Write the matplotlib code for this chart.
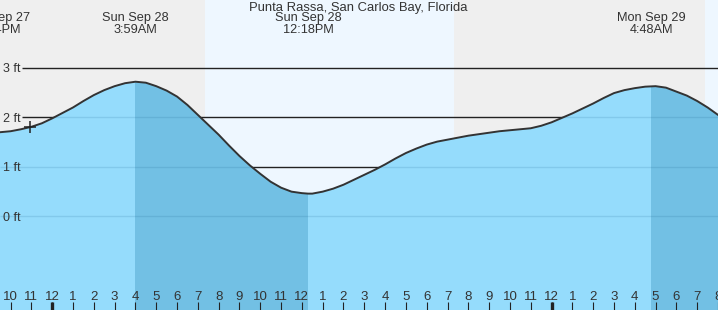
import matplotlib
matplotlib.use("Agg")
import matplotlib.pyplot as plt
import numpy as np

plt.rcParams['font.family'] = ['Liberation Sans', 'DejaVu Sans']

TITLE = "Punta Rassa, San Carlos Bay, Florida"

# hours from midnight Sun Sep 28, and tide height (ft)
hours = [-2.51, -2, -1.5, -1, -0.5, 0, 0.5, 1, 1.5, 2, 2.5, 3, 3.5, 4, 4.5,
         5, 5.5, 6, 6.5, 7, 7.5, 8, 8.5, 9, 9.5, 10, 10.5, 11, 11.5, 12,
         12.3, 12.5, 13, 13.5, 14, 14.5, 15, 15.5, 16, 16.5, 17, 17.5, 18,
         18.5, 19, 19.5, 20, 20.5, 21, 21.5, 22, 22.5, 23, 23.5, 24, 24.5,
         25, 25.5, 26, 26.5, 27, 27.5, 28, 28.5, 29, 29.5, 30, 30.5, 31,
         31.5, 32]
height = [1.70, 1.72, 1.76, 1.81, 1.88, 1.98, 2.09, 2.20, 2.33, 2.45, 2.55,
          2.63, 2.69, 2.72, 2.70, 2.63, 2.54, 2.42, 2.25, 2.05, 1.85, 1.65,
          1.43, 1.22, 1.03, 0.86, 0.70, 0.58, 0.50, 0.47, 0.46, 0.46, 0.50,
          0.56, 0.64, 0.74, 0.84, 0.94, 1.05, 1.17, 1.28, 1.37, 1.45, 1.51,
          1.55, 1.59, 1.63, 1.66, 1.69, 1.72, 1.74, 1.76, 1.78, 1.83, 1.90,
          1.99, 2.08, 2.18, 2.28, 2.39, 2.49, 2.55, 2.59, 2.62, 2.63, 2.60,
          2.52, 2.44, 2.33, 2.20, 2.05]

# tide extremes shown at the top
tide_hours = [-2.56, 3.98, 12.3, 28.8]
tide_labels = ["Sat Sep 27\n7:44PM", "Sun Sep 28\n3:59AM",
               "Sun Sep 28\n12:18PM", "Mon Sep 29\n4:48AM"]

# falling-tide stretches (high -> low), drawn darker
falling = [(3.98, 12.3), (28.8, 32.0)]

# daylight (sunrise, sunset)
daylight = [(7.33, 19.3), (31.36, 32.0)]

now_hour, now_height = -1.07, 1.80

grid_levels = [0, 1, 2, 3]
grid_labels = ["0 ft", "1 ft", "2 ft", "3 ft"]

tick_hours = list(range(-2, 33))
tick_labels = [str((h % 12) or 12) for h in tick_hours]
midnights = [0, 24]

x0, x1 = -2.51, 32.0
y0, y1 = -1.89, 4.37

fig = plt.figure(figsize=(7.18, 3.10), dpi=100)
ax = fig.add_axes([0, 0, 1, 1])
ax.set_xlim(x0, x1)
ax.set_ylim(y0, y1)
ax.set_facecolor('#efefef')
ax.set_axisbelow(False)
for s in ax.spines.values():
    s.set_visible(False)

for a, b in daylight:
    ax.axvspan(a, b, color='#eef7ff', zorder=0, lw=0)

ax.hlines(grid_levels, -1.46, x1, color='#222222', lw=1.0, zorder=1.0)

water = ax.fill_between(hours, height, y0, color='#95dcfc', lw=0, zorder=1.2)
clip = water.get_paths()[0]
for a, b in falling:
    span = ax.axvspan(a, b, color='#72c0e4', lw=0, zorder=1.3)
    span.set_clip_path(clip, ax.transData)
wet = ax.hlines(grid_levels, x0, x1, color='#1a5f8a', alpha=0.15, lw=1.0, zorder=1.4)
wet.set_clip_path(clip, ax.transData)

ax.plot(hours, height, color='#333333', lw=1.4, zorder=2.0)
ax.plot([now_hour], [now_height], marker='+', ms=9, mew=1.1, color='#222222', zorder=2.1)

ax.text(14.7, 4.21, TITLE, ha='center', va='center', fontsize=9.4, color='#333333')
for h, lab in zip(tide_hours, tide_labels):
    ax.text(h, 3.88, lab, ha='center', va='center', fontsize=9.2,
            color='#333333', linespacing=1.05)

ax.set_yticks(grid_levels, grid_labels)
ax.tick_params(axis='y', length=0, pad=-2.5, labelsize=9, labelcolor='#333333')
for t in ax.get_yticklabels():
    t.set_ha('left')

ax.xaxis.remove_overlapping_locs = False
ax.set_xticks(tick_hours, tick_labels)
ax.set_xticks(midnights, minor=True)
ax.tick_params(axis='x', which='major', direction='in', length=5.8, width=0.8,
               color='#222222', pad=-14, labelsize=9.5, labelcolor='#333333')
ax.tick_params(axis='x', which='minor', direction='in', length=5.8, width=2.4,
               color='#222222')

fig.savefig("out.png", dpi=100)
